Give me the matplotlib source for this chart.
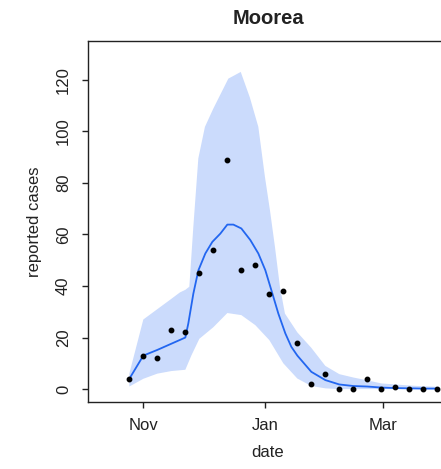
import numpy as np
import matplotlib
matplotlib.use("Agg")
import matplotlib.pyplot as plt
import matplotlib.dates as mdates

plt.rcParams['font.family'] = ['Liberation Sans', 'DejaVu Sans']

# Weekly reported cases on Moorea
week_start = np.datetime64('2013-10-25')
n_weeks = 23
obs_days = np.arange(n_weeks) * 7
observed = [4, 13, 12, 23, 22, 45, 54, 89, 46, 48, 37, 38, 18, 2, 6, 0, 0, 4, 0, 1, 0, 0, 0]

# Model median (days since first report)
median_days = [0, 7, 14, 21, 28, 29.5, 32, 34.5, 38, 41.5, 45.5, 49, 52, 56, 60.5,
               64.5, 68, 71, 74.5, 78, 81, 84, 91, 98, 105, 112, 119, 126, 133,
               140, 147, 154]
median = [4, 13, 15.2, 17.6, 20, 25.5, 37, 46, 52.6, 57.1, 60.3, 63.8, 63.8, 62.3,
          57.8, 52.6, 46.1, 38.4, 29.3, 21.6, 16.4, 13, 6.7, 3.5, 1.8, 1.2, 1.0,
          0.6, 0.4, 0.3, 0.2, 0.2]

# 95% prediction interval, upper and lower edges
upper_days = [0, 7, 14, 21, 25.3, 28, 30, 32, 34.5, 37.8, 42, 49.5, 55.7, 60.3,
              64.5, 67.8, 70.3, 72.8, 75.3, 77.8, 84, 91, 98, 105, 112, 119, 126,
              133, 140, 147, 154]
upper = [6, 27, 31, 35, 37.5, 38.5, 39.7, 62.9, 89.5, 101.7, 108.8, 120.4, 123,
         113, 101.7, 82.3, 69.4, 55.2, 39.7, 29.3, 22, 16, 9, 5.8, 4.5, 3.4, 2.2,
         1.8, 1.4, 1.1, 0.9]
lower_days = [0, 7, 14, 21, 28, 31, 35, 42, 49, 56, 63, 70, 77, 84, 91, 98, 105, 154]
lower = [1, 4, 6, 7, 7.5, 13, 19.5, 24, 29.5, 28.7, 24.8, 19, 10, 4.1, 1.2, 0.3, 0, 0]

tick_dates = np.array(['2013-11-01', '2014-01-01', '2014-03-01'], dtype='datetime64[D]')
tick_labels = ['Nov', 'Jan', 'Mar']
y_ticks = [0, 20, 40, 60, 80, 100, 120]

t0 = mdates.date2num(week_start)
x_obs = t0 + obs_days
x_med = t0 + np.asarray(median_days)
x_up = t0 + np.asarray(upper_days)
x_lo = t0 + np.asarray(lower_days)

fig = plt.figure(figsize=(4.41, 4.69), dpi=100)
ax = fig.add_axes([88 / 441, 67 / 469, 360 / 441, 361 / 469])

band_x = np.concatenate([x_up, x_lo[::-1]])
band_y = np.concatenate([upper, lower[::-1]])
ax.fill(band_x, band_y, color='#cbdbfc', linewidth=0)
ax.plot(x_med, median, color='#2266f0', linewidth=1.3)
ax.plot(x_obs, observed, linestyle='none', marker='o', markersize=3.2,
        color='black')

x0 = mdates.date2num(np.datetime64('2013-10-04T08:00'))
x1 = mdates.date2num(np.datetime64('2014-04-02T08:00'))
ax.set_xlim(x0, x1)
ax.set_ylim(-5, 135)

ax.set_xticks(mdates.date2num(tick_dates))
ax.set_xticklabels(tick_labels)
ax.set_yticks(y_ticks)
ax.set_yticklabels([str(v) for v in y_ticks], rotation=90, va='center')

for s in ax.spines.values():
    s.set_color('#222222')
    s.set_linewidth(1.0)

ax.tick_params(axis='both', direction='out', length=4.3, width=1.0,
               color='#222222', labelsize=12, labelcolor='#222222')
ax.tick_params(axis='x', pad=7)
ax.tick_params(axis='y', pad=8)

ax.set_xlabel('date', fontsize=12, color='#222222', labelpad=9)
ax.set_ylabel('reported cases', fontsize=12, color='#222222', labelpad=10)
ax.set_title('Moorea', fontsize=14.5, fontweight='bold', color='#222222', pad=12)

fig.savefig('out.png', dpi=100)
